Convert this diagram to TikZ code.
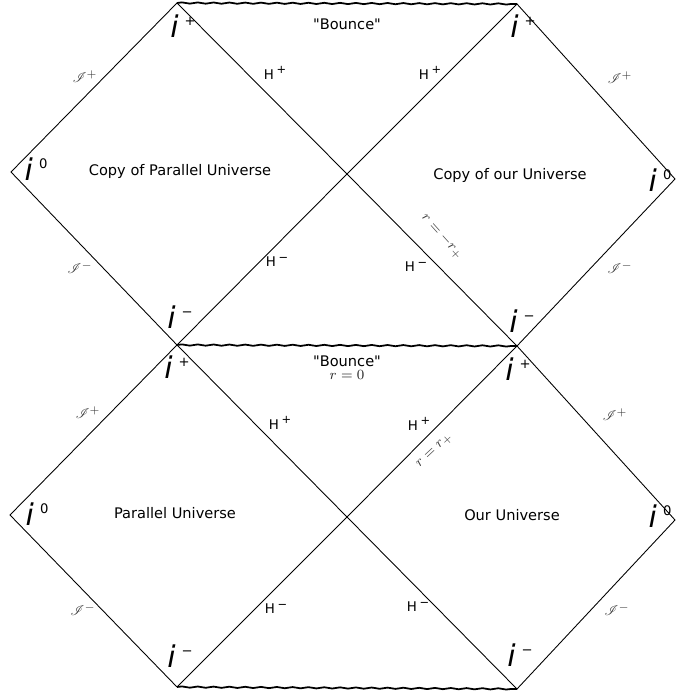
\documentclass[tikz,border=0pt]{standalone}
\usepackage{fontspec}
\setmainfont{DejaVu Sans}[Ligatures=TeXOff]
\usepackage{amsmath,amssymb}
\usepackage{mathrsfs}
\usepackage{xcolor}
\usetikzlibrary{positioning,decorations.pathmorphing}
\definecolor{ScriGray}{RGB}{60,60,60}
\newcommand{\ipt}[1]{{\fontsize{17}{18}\selectfont\itshape i}\hspace{3.5pt}\raisebox{6.5pt}{\fontsize{7.5}{8}\selectfont #1}}
\newcommand{\hpt}[1]{H\hspace{1.5pt}\raisebox{3pt}{\fontsize{6.5}{7}\selectfont #1}}

\begin{document}
\begin{tikzpicture}[
        wall/.style={line width=0.5pt},
        bounce/.style={line width=1pt,decorate,
                       decoration={snake,amplitude=0.35pt,segment length=9pt}},
        lbl/.style={font=\fontsize{8.3}{10}\selectfont,inner sep=1pt},
        hor/.style={font=\fontsize{7.6}{9}\selectfont,inner sep=1pt},
        scri/.style={font=\fontsize{8.5}{9}\selectfont,text=ScriGray,inner sep=1pt},
        ipt/.style={inner sep=0pt}
      ]
        \useasboundingbox (0,0) rectangle (13.5,13.92);
        % corners of the diagram
        \coordinate (tl) at (3.54,13.86);
        \coordinate (tr) at (10.34,13.84);
        \coordinate (l1) at (0.22,10.48);
        \coordinate (c1) at (6.94,10.44);
        \coordinate (r1) at (13.5,10.34);
        \coordinate (ml) at (3.54,7.02);
        \coordinate (mr) at (10.34,7.0);
        \coordinate (l2) at (0.2,3.62);
        \coordinate (c2) at (6.94,3.58);
        \coordinate (r2) at (13.5,3.52);
        \coordinate (bl) at (3.54,0.18);
        \coordinate (br) at (10.34,0.14);
        % null boundaries and horizons
        \draw[wall] (ml)--(l1)--(tl)--(c1)--(mr)--(r1)--(tr)--(c1)--(ml);
        \draw[wall] (bl)--(l2)--(ml)--(c2)--(br)--(r2)--(mr)--(c2)--(bl);
        % singularities
        \draw[bounce] (tl)--(tr);
        \draw[bounce] (ml)--(mr);
        \draw[bounce] (bl)--(br);
        % upper block
        \node[ipt] (itl) at (3.66,13.4) {\ipt{+}};
        \node[ipt] (itr) at (10.46,13.4) {\ipt{+}};
        \node[lbl] (bnc1) at (6.94,13.44) {"Bounce"};
        \node[hor] (hp1) at (5.5,12.46) {\hpt{+}};
        \node[hor] (hp2) at (8.6,12.46) {\hpt{+}};
        \node[scri] (sp1) at (1.7,12.38) {$\mathscr{I}^+$};
        \node[scri] (sp2) at (12.4,12.36) {$\mathscr{I}^+$};
        \node[ipt] (i01) at (0.72,10.54) {\ipt{0}};
        \node[ipt] (i02) at (13.2,10.32) {\ipt{0}};
        \node[lbl] (cpu) at (3.6,10.5) {Copy of Parallel Universe};
        \node[lbl] (cou) at (10.2,10.42) {Copy of our Universe};
        \node[scri] (sm1) at (1.6,8.56) {$\mathscr{I}^-$};
        \node[scri] (sm2) at (12.4,8.56) {$\mathscr{I}^-$};
        \node[hor] (hm1) at (5.54,8.68) {\hpt{−}};
        \node[hor] (hm2) at (8.32,8.58) {\hpt{−}};
        \node[scri,rotate=-48] (rneg) at (8.84,9.18) {$r=-r_+$};
        \node[ipt] (iml) at (3.6,7.58) {\ipt{−}};
        \node[ipt] (imr) at (10.44,7.5) {\ipt{−}};
        % lower block
        \node[ipt] (ipl) at (3.54,6.58) {\ipt{+}};
        \node[ipt] (ipr) at (10.36,6.54) {\ipt{+}};
        \node[lbl] (bnc2) at (6.94,6.7) {"Bounce"};
        \node[scri,text=black!85,below=0pt of bnc2] (rz) {$r=0$};
        \node[hor] (hp3) at (5.6,5.46) {\hpt{+}};
        \node[hor] (hp4) at (8.38,5.44) {\hpt{+}};
        \node[scri,rotate=43] (rpos) at (8.7,4.9) {$r=r_+$};
        \node[scri] (sp3) at (1.76,5.66) {$\mathscr{I}^+$};
        \node[scri] (sp4) at (12.3,5.62) {$\mathscr{I}^+$};
        \node[ipt] (i03) at (0.74,3.64) {\ipt{0}};
        \node[ipt] (i04) at (13.2,3.6) {\ipt{0}};
        \node[lbl] (pu) at (3.5,3.66) {Parallel Universe};
        \node[lbl] (ou) at (10.24,3.62) {Our Universe};
        \node[scri] (sm3) at (1.66,1.72) {$\mathscr{I}^-$};
        \node[scri] (sm4) at (12.34,1.72) {$\mathscr{I}^-$};
        \node[hor] (hm3) at (5.52,1.74) {\hpt{−}};
        \node[hor] (hm4) at (8.36,1.78) {\hpt{−}};
        \node[ipt] (ibl) at (3.6,0.8) {\ipt{−}};
        \node[ipt] (ibr) at (10.4,0.82) {\ipt{−}};
      \end{tikzpicture}
\end{document}
